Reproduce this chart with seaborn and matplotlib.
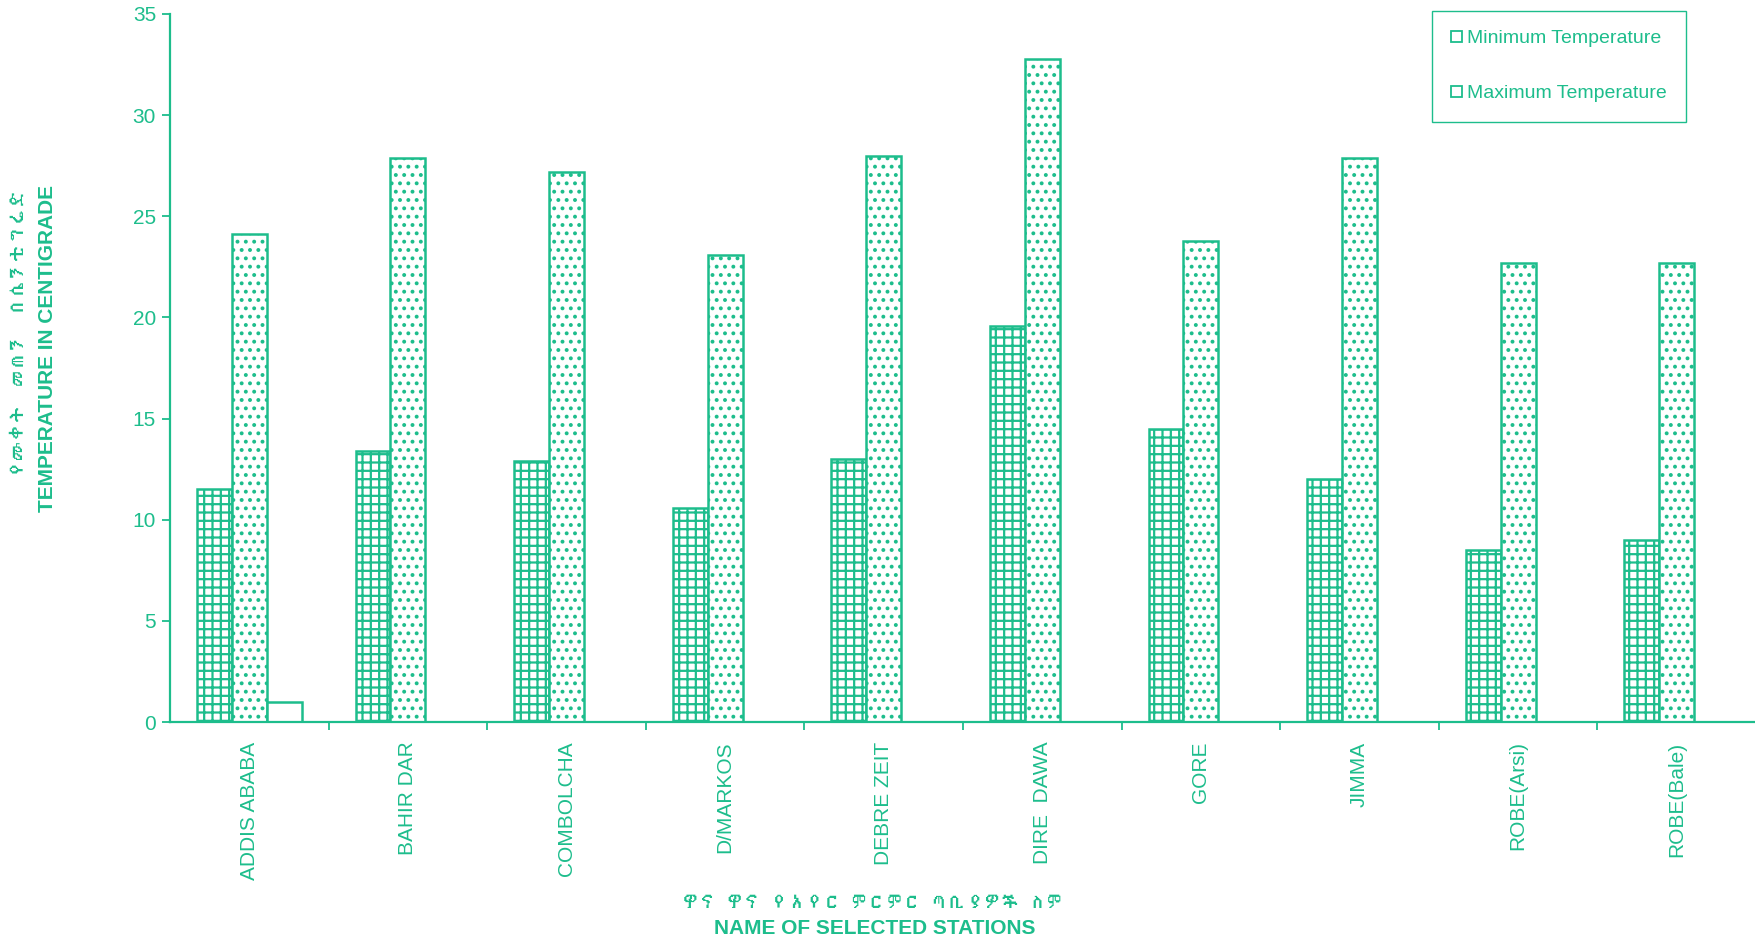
import numpy as np
import pandas as pd
import matplotlib
matplotlib.use("Agg")
import matplotlib.pyplot as plt
import seaborn as sns
from matplotlib.patches import Patch
from matplotlib import font_manager
from matplotlib.ft2font import FT2Font

# ---------------- data ----------------
stations = ["ADDIS ABABA", "BAHIR DAR", "COMBOLCHA", "D/MARKOS", "DEBRE ZEIT",
            "DIRE  DAWA", "GORE", "JIMMA", "ROBE(Arsi)", "ROBE(Bale)"]
min_temp = [11.5, 13.4, 12.9, 10.6, 13.0, 19.6, 14.5, 12.0, 8.5, 9.0]
max_temp = [24.1, 27.9, 27.2, 23.1, 28.0, 32.8, 23.8, 27.9, 22.7, 22.7]
extra_bar = [1.0, np.nan, np.nan, np.nan, np.nan, np.nan, np.nan, np.nan, np.nan, np.nan]
series_names = ["Minimum Temperature", "Maximum Temperature", "Other"]
legend_labels = ["Minimum Temperature", "Maximum Temperature"]
y_ticks = [0, 5, 10, 15, 20, 25, 30, 35]

ylabel_am = "የሙቀት  መጠን  በሴንቲግሬድ"
ylabel_en = "TEMPERATURE IN CENTIGRADE"
xlabel_am = "ዋና ዋና የአየር ምርምር ጣቢያዎች ስም"
xlabel_en = "NAME OF SELECTED STATIONS"

GREEN = "#1dbd8c"

# find a font that has Ethiopic glyphs
eth_family = None
for fe in font_manager.fontManager.ttflist:
    try:
        cmap = FT2Font(fe.fname).get_charmap()
    except Exception:
        continue
    if 0x12CB in cmap and 0x12A0 in cmap:
        eth_family = fe.name
        break
eth_fonts = ([eth_family] if eth_family else []) + ["DejaVu Sans"]

sns.set_theme(style="white")
plt.rcParams["font.family"] = ["Liberation Sans", "DejaVu Sans"]
plt.rcParams["hatch.color"] = GREEN
plt.rcParams["hatch.linewidth"] = 1.6

df = pd.DataFrame({
    "station": stations * 3,
    "temp": min_temp + max_temp + extra_bar,
    "series": [s for s in series_names for _ in stations],
})

W, H = 1756, 943
fig = plt.figure(figsize=(W / 100, H / 100), dpi=100)
ax = fig.add_axes([170 / W, 1 - 722 / H, 1 - 170 / W, (722 - 14) / H])

sns.barplot(data=df, x="station", y="temp", hue="series", order=stations,
            hue_order=series_names, palette=["white"] * 3, saturation=1,
            edgecolor=GREEN, linewidth=1.8, width=0.66, dodge=True,
            errorbar=None, legend=False, ax=ax)

for cont, hatch in zip(ax.containers, ["++", "..", ""]):
    for bar in cont:
        bar.set_hatch(hatch)
        bar.set_edgecolor(GREEN)

ax.set_xlim(-0.5, 9.5)
ax.set_ylim(0, 35)
ax.set_yticks(y_ticks)
ax.set_xlabel("")
ax.set_ylabel("")
for s in ["top", "right"]:
    ax.spines[s].set_visible(False)
for s in ["left", "bottom"]:
    ax.spines[s].set_color(GREEN)
    ax.spines[s].set_linewidth(1.6)

ax.tick_params(axis="y", direction="out", length=6, width=1.3, color=GREEN,
               labelcolor=GREEN, labelsize=15, pad=4, left=True)
ax.tick_params(axis="x", which="major", length=0, labelcolor=GREEN,
               labelsize=15, pad=14, labelrotation=90, bottom=True)
ax.set_xticks(np.arange(0.5, 9.5, 1.0), minor=True)
ax.tick_params(axis="x", which="minor", direction="out", length=6, width=1.3,
               color=GREEN, bottom=True)

handles = [Patch(facecolor="white", edgecolor=GREEN, linewidth=1.3) for _ in legend_labels]
leg = ax.legend(handles, legend_labels, loc="upper left",
                bbox_to_anchor=(1432 / W, 1 - 11 / H), bbox_transform=fig.transFigure,
                fontsize=14, frameon=True, fancybox=False, framealpha=1,
                edgecolor=GREEN, handlelength=0.55, handleheight=0.55,
                handletextpad=0.25, labelspacing=1.95, borderpad=1.0,
                borderaxespad=0)
leg.get_frame().set_linewidth(1.0)
for t in leg.get_texts():
    t.set_color(GREEN)

fig.text(19 / W, 1 - 333 / H, ylabel_am, rotation=90, ha="center", va="center",
         color=GREEN, fontsize=13, family=eth_fonts)
fig.text(48 / W, 1 - 349 / H, ylabel_en, rotation=90, ha="center", va="center",
         color=GREEN, fontsize=15, fontweight="bold")
fig.text(873 / W, 1 - 903 / H, xlabel_am, ha="center", va="center",
         color=GREEN, fontsize=12.8, family=eth_fonts)
fig.text(875 / W, 1 - 929 / H, xlabel_en, ha="center", va="center",
         color=GREEN, fontsize=15, fontweight="bold")

fig.savefig("out.png", dpi=100, facecolor="white")
